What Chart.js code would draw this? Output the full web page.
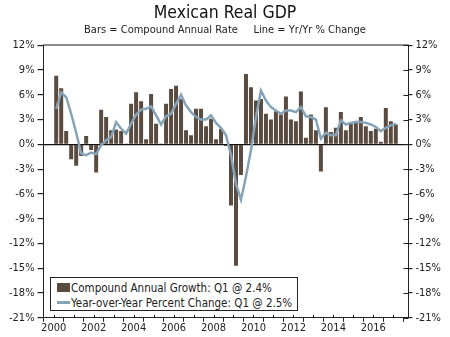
<!DOCTYPE html>
<html>
<head>
<meta charset="utf-8">
<script src="https://cdn.jsdelivr.net/npm/chart.js@4.4.1/dist/chart.umd.min.js"></script>
<style>
  body { margin: 0; background: #fff; }
  #wrap { position: relative; width: 450px; height: 337px; }
  #legend {
    position: absolute; left: 50px; top: 277px; width: 248px; height: 34px;
    box-sizing: border-box; border: 1px solid #222; background: #fff;
    padding: 2px 0 0 6px; color: #222;
    font: 11.5px 'DejaVu Sans Condensed', 'DejaVu Sans', sans-serif;
  }
  #legend .row { height: 15px; display: flex; align-items: center; white-space: nowrap; }
  #legend .sw { width: 13px; margin-right: 1px; }
  #legend .sw.bar { height: 9px; background: #5a4b40; }
  #legend .sw.line { height: 3px; background: #86a3b8; }
</style>
</head>
<body>
<div id="wrap">
  <canvas id="gdpChart" width="450" height="337"></canvas>
  <div id="legend">
    <div class="row"><span class="sw bar"></span><span id="lgBar"></span></div>
    <div class="row"><span class="sw line"></span><span id="lgLine"></span></div>
  </div>
</div>
<script>
// quarterly, 2000 Q1 .. 2017 Q1
const startYear = 2000;
const quarterLabels = [];
for (let i = 0; i < 69; i++) {
  quarterLabels.push((startYear + Math.floor(i / 4)) + ' Q' + (i % 4 + 1));
}

// compound annual growth rate, %
const growth = [
  8.3, 6.8, 1.6, -1.8, -2.6, -1.4, 1.0, -0.7, -3.4, 4.2, 3.3, 1.7,
  1.8, 1.6, 0.1, 4.9, 6.3, 5.2, 0.6, 6.1, 2.5, 0.1, 4.9, 6.7,
  7.1, 5.5, 1.7, 1.1, 4.3, 4.3, 2.2, 3.1, 0.6, 1.9, -0.2, -7.4,
  -14.7, -3.7, 8.5, 6.9, 5.3, 5.5, 3.7, 3.0, 4.0, 3.6, 5.8, 3.0,
  2.8, 6.4, 0.8, 3.6, 1.7, -3.3, 4.5, 1.5, 2.0, 3.9, 1.7, 2.5,
  2.6, 3.3, 2.2, 1.6, 1.9, 0.3, 4.4, 2.8, 2.4
];

// year-over-year percent change, %
const yoy = [
  4.3, 6.3, 5.7, 3.7, 1.4, -1.1, -1.3, -1.0, -1.2, -0.1, 0.5, 0.9,
  2.7, 1.9, 1.3, 2.5, 3.6, 4.2, 4.3, 4.6, 3.5, 2.4, 3.4, 3.7,
  4.9, 6.0, 4.7, 3.9, 3.3, 3.0, 3.0, 3.5, 2.6, 2.0, 1.1, -1.3,
  -4.8, -6.7, -3.9, -0.7, 3.3, 6.5, 5.3, 4.5, 4.1, 3.7, 4.1, 4.1,
  3.9, 4.5, 3.4, 3.3, 3.0, 0.7, 1.4, 1.1, 1.1, 2.9, 2.4, 2.6,
  2.7, 2.7, 2.6, 2.4, 2.1, 1.6, 2.0, 2.3, 2.5
];

const yTicks = [-21, -18, -15, -12, -9, -6, -3, 0, 3, 6, 9, 12];

// "2003 Q2" -> centre of that quarter on a decimal-year axis
const toYear = lbl => {
  const [y, q] = lbl.split(' Q').map(Number);
  return y + (q - 0.5) / 4;
};

const lastQ = quarterLabels[quarterLabels.length - 1].split(' ')[1];
document.getElementById('lgBar').textContent =
  'Compound Annual Growth: ' + lastQ + ' @ ' + growth[growth.length - 1].toFixed(1) + '%';
document.getElementById('lgLine').textContent =
  'Year-over-Year Percent Change: ' + lastQ + ' @ ' + yoy[yoy.length - 1].toFixed(1) + '%';

const FONT = "'DejaVu Sans Condensed', 'DejaVu Sans', sans-serif";
const INK = '#222';

// short tick stubs pointing into the plot on the bottom and right axes
const innerTicks = {
  id: 'innerTicks',
  afterDatasetsDraw(chart) {
    const { ctx, scales: { x, y2 } } = chart;
    ctx.save();
    ctx.strokeStyle = INK;
    ctx.lineWidth = 1;
    x.ticks.forEach((t, i) => {
      const px = Math.round(x.getPixelForTick(i)) + 0.5;
      ctx.beginPath();
      ctx.moveTo(px, x.top);
      ctx.lineTo(px, x.top - 3);
      ctx.stroke();
    });
    y2.ticks.forEach((t, i) => {
      const py = Math.round(y2.getPixelForTick(i)) + 0.5;
      ctx.beginPath();
      ctx.moveTo(y2.left, py);
      ctx.lineTo(y2.left - 5, py);
      ctx.stroke();
    });
    ctx.restore();
  }
};

const yAxis = (pos) => ({
  position: pos,
  min: -21,
  max: 12,
  afterBuildTicks: s => { s.ticks = yTicks.map(v => ({ value: v })); },
  ticks: {
    callback: v => v + '%',
    color: INK,
    padding: 3,
    font: { family: FONT, size: 11 }
  },
  grid: {
    drawOnChartArea: pos === 'left',
    color: c => (c.tick && c.tick.value === 0 ? '#111' : 'rgba(0,0,0,0)'),
    lineWidth: 1.2,
    tickColor: INK,
    tickLength: pos === 'left' ? 6 : 4
  },
  border: { color: INK, width: 1 }
});

const ctx = document.getElementById('gdpChart').getContext('2d');
const chart = new Chart(ctx, {
  data: {
    datasets: [{
      type: 'line',
      label: 'Year-over-Year Percent Change',
      data: yoy.map((v, i) => ({ x: toYear(quarterLabels[i]), y: v })),
      borderColor: '#86a3b8',
      borderWidth: 2.5,
      pointRadius: 0,
      tension: 0,
      yAxisID: 'y',
      order: 0
    }, {
      type: 'bar',
      label: 'Compound Annual Growth',
      data: growth.map((v, i) => ({ x: toYear(quarterLabels[i]), y: v })),
      backgroundColor: '#5a4b40',
      barPercentage: 0.8,
      categoryPercentage: 1,
      yAxisID: 'y',
      order: 1
    }]
  },
  options: {
    responsive: false,
    animation: false,
    layout: { padding: { left: 6, right: 6, top: 3, bottom: 2 } },
    plugins: {
      legend: { display: false },
      tooltip: { enabled: false },
      title: {
        display: true,
        text: 'Mexican Real GDP',
        color: '#111',
        font: { family: FONT, size: 17.5, weight: 'normal' },
        padding: { top: 0, bottom: 0 }
      },
      subtitle: {
        display: true,
        text: 'Bars = Compound Annual Rate     Line = Yr/Yr % Change',
        color: INK,
        font: { family: FONT, size: 11 },
        padding: { top: 0, bottom: 0 }
      }
    },
    scales: {
      x: {
        type: 'linear',
        min: startYear,
        max: 2017.25,
        ticks: {
          stepSize: 1,
          includeBounds: false,
          autoSkip: false,
          maxRotation: 0,
          padding: 0,
          color: INK,
          font: { family: FONT, size: 11 },
          callback: v => (v % 2 === 0 ? String(v) : '')
        },
        grid: { drawOnChartArea: false, tickLength: 4, color: INK },
        border: { color: INK }
      },
      xTop: {
        type: 'linear',
        position: 'top',
        min: startYear,
        max: 2017.25,
        ticks: { display: false },
        grid: { display: false },
        border: { color: '#8c8c8c', width: 2 }
      },
      y: yAxis('left'),
      y2: yAxis('right')
    }
  },
  plugins: [innerTicks]
});
</script>
</body>
</html>
